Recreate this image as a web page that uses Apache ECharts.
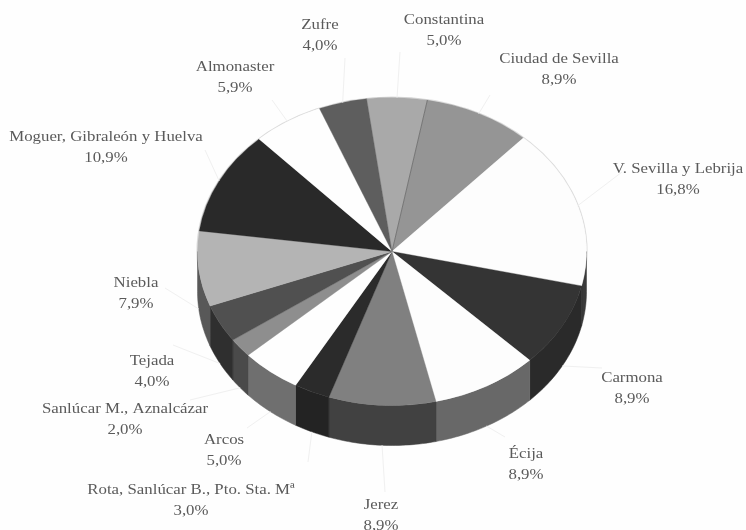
<!DOCTYPE html>
<html>
<head>
<meta charset="utf-8">
<script src="https://cdn.jsdelivr.net/npm/echarts@6/dist/echarts.min.js"></script>
<style>
html,body{margin:0;padding:0;background:#fefefe;}
#c{width:746px;height:530px;filter:blur(0.7px);}
</style>
</head>
<body>
<div id="c"></div>
<script>
const names = ['Constantina','Ciudad de Sevilla','V. Sevilla y Lebrija','Carmona','Écija','Jerez','Rota, Sanlúcar B., Pto. Sta. Mª','Arcos','Sanlúcar M., Aznalcázar','Tejada','Niebla','Moguer, Gibraleón y Huelva','Almonaster','Zufre'];
const values = [5.0,8.9,16.8,8.9,8.9,8.9,3.0,5.0,2.0,4.0,7.9,10.9,5.9,4.0];
const topColors = ['#a9a9a9','#959595','#fdfdfd','#343434','#fdfdfd','#808080','#2b2b2b','#fefefe','#8e8e8e','#505050','#b4b4b4','#292929','#fefefe','#5e5e5e'];
const wallColors = ['#888','#777','#3a3a3a','#2a2a2a','#686868','#414141','#232323','#6f6f6f','#4a4a4a','#2f2f2f','#585858','#222','#999','#444'];
const labelCenters = [[444,30.5],[559,69.5],[678,179.5],[632,388.5],[526,464],[381,515.5],[191,500.5],[224,450.5],[125,419.5],[152,371.5],[136,293],[106,147],[235,77.5],[320,35.5]];
const leaderEnds = [[400,52],[490,95],[622,172],[602,368],[505,437],[385,492],[308,462],[247,428],[190,400],[173,345],[165,288],[205,150],[272,100],[345,58]];

const cx = 392, cy = 251.5, rx = 194.5, ry = 154, depth = 40, startDeg = -7.5;
const toRad = d => d * Math.PI / 180;
const total = values.reduce((a, b) => a + b, 0);
const bounds = [startDeg];
values.forEach(v => bounds.push(bounds[bounds.length - 1] + v / total * 360));
const rim = (t, dy) => [cx + rx * Math.sin(toRad(t)), cy - ry * Math.cos(toRad(t)) + (dy || 0)];
const fmt = v => v.toFixed(1).replace('.', ',') + '%';
const rows = names.map((n, i) => [i]);

function renderWall(params, api) {
  const i = api.value(0);
  const a = Math.max(bounds[i], 90), b = Math.min(bounds[i + 1], 270);
  if (a >= b) return { type: 'group', children: [] };
  const top = [], bottom = [];
  for (let t = a; ; t += 1) {
    const u = Math.min(t, b);
    top.push(rim(u, 0));
    bottom.unshift(rim(u, depth));
    if (u >= b) break;
  }
  return { type: 'polygon', shape: { points: top.concat(bottom) },
    style: { fill: wallColors[i], stroke: wallColors[i], lineWidth: 0.5 } };
}
function renderTop(params, api) {
  const i = api.value(0);
  return {
    type: 'sector', x: cx, y: cy, scaleY: ry / rx, originX: 0, originY: 0,
    shape: { cx: 0, cy: 0, r0: 0, r: rx, startAngle: toRad(bounds[i] - 90), endAngle: toRad(bounds[i + 1] - 90), clockwise: true },
    style: { fill: topColors[i], stroke: topColors[i], lineWidth: 0.4 }
  };
}
function renderLabel(params, api) {
  const i = api.value(0);
  const mid = (bounds[i] + bounds[i + 1]) / 2;
  const norm = ((mid % 360) + 360) % 360;
  const front = norm > 90 && norm < 270;
  const s = rim(mid, front ? depth : 0);
  return { type: 'group', children: [
    { type: 'line', shape: { x1: s[0], y1: s[1], x2: leaderEnds[i][0], y2: leaderEnds[i][1] },
      style: { stroke: '#f0f0f0', lineWidth: 1 } },
    { type: 'text', x: labelCenters[i][0], y: labelCenters[i][1], scaleX: 1.085,
      style: { x: 0, y: 0, text: names[i] + '\n' + fmt(values[i]),
      align: 'center', verticalAlign: 'middle', font: '15.5px "Liberation Serif"', lineHeight: 21, fill: '#5a5a5a' } }
  ] };
}
function renderOutline() {
  return { type: 'ellipse', shape: { cx, cy, rx: rx + 0.5, ry: ry + 0.5 }, style: { fill: 'none', stroke: '#dcdcdc', lineWidth: 1.2 } };
}
function renderSeam() {
  const p = rim(bounds[1]);
  return { type: 'line', shape: { x1: cx, y1: cy, x2: p[0], y2: p[1] }, style: { stroke: '#6a6a6a', lineWidth: 0.8 } };
}

const chart = echarts.init(document.getElementById('c'), null, { renderer: 'canvas' });
const base = { type: 'custom', coordinateSystem: 'none', silent: true, animation: false };
chart.setOption({
  backgroundColor: '#fefefe',
  animation: false,
  series: [
    Object.assign({}, base, { name: 'outline', z: 1, data: [[0]], renderItem: renderOutline }),
    Object.assign({}, base, { name: 'walls', z: 2, data: rows, renderItem: renderWall }),
    Object.assign({}, base, { name: 'tops', z: 3, data: rows, renderItem: renderTop }),
    Object.assign({}, base, { name: 'seam', z: 4, data: [[0]], renderItem: renderSeam }),
    Object.assign({}, base, { name: 'labels', z: 5, data: rows, renderItem: renderLabel })
  ]
});
</script>
</body>
</html>
